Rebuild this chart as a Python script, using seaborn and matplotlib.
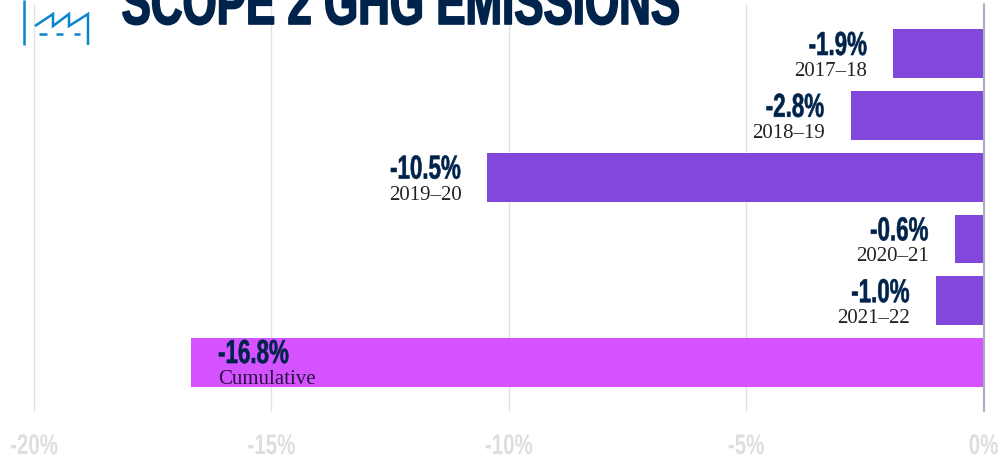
import pandas as pd
import seaborn as sns
import matplotlib.pyplot as plt
from matplotlib.patheffects import AbstractPathEffect
from matplotlib.transforms import Affine2D

W, H = 998, 462

# values (bar lengths as drawn, labels as printed)
periods = ["2017–18", "2018–19", "2019–20", "2020–21", "2021–22", "Cumulative"]
changes = [-1.9, -2.8, -10.45, -0.6, -1.0, -16.7]
change_labels = ["-1.9%", "-2.8%", "-10.5%", "-0.6%", "-1.0%", "-16.8%"]
tick_values = [-20, -15, -10, -5, 0]
tick_labels = ["-20%", "-15%", "-10%", "-5%", "0%"]

PURPLE = "#8247DB"
MAGENTA = "#D452FF"
NAVY = "#00234B"
GRID = "#E2E2E2"
ZERO = "#A9ACC2"
TICK = "#DCDEDF"
BLUE = "#0A84CC"
SANS = ["Liberation Sans", "DejaVu Sans"]
SERIF = ["Liberation Serif", "DejaVu Serif"]


# no condensed font installed, so squeeze the glyphs sideways at draw time
class Squeeze(AbstractPathEffect):
    def __init__(self, sx, ha, stroke=0.0):
        super().__init__()
        self.sx = sx
        self.ha = ha
        self.stroke = stroke

    def draw_path(self, renderer, gc, tpath, affine, rgbFace=None):
        ext = tpath.get_extents()
        a = {"left": ext.x0, "right": ext.x1, "center": (ext.x0 + ext.x1) / 2}[self.ha]
        t = Affine2D().translate(-a, 0).scale(self.sx, 1).translate(a, 0)
        gc.set_linewidth(self.stroke)
        renderer.draw_path(gc, tpath, t + affine, rgbFace)


def px(x, y):
    # pixel position (from top left) to figure fraction
    return x / W, 1 - y / H


def icon_line(points, lw=1.8):
    xs, ys = zip(*[px(a, b) for a, b in points])
    fig.add_artist(plt.Line2D(xs, ys, color=BLUE, lw=lw, solid_capstyle="butt", solid_joinstyle="miter"))


sns.set_style("white")
df = pd.DataFrame({"period": periods, "change": changes})

fig = plt.figure(figsize=(W / 100, H / 100), dpi=100)
ax = fig.add_axes([34 / W, 1 - 411 / H, (983.5 - 34) / W, (411 - 4) / H])

sns.barplot(data=df, x="change", y="period", hue="period", orient="h", ax=ax,
            palette=[PURPLE] * 5 + [MAGENTA], width=0.79, legend=False,
            saturation=1, linewidth=0, zorder=2)

ax.set_xlim(-20, 0)
ax.set_ylim(5.784, -0.801)
ax.set_xlabel("")
ax.set_ylabel("")
ax.set_yticks([])
ax.set_xticks(tick_values)
ax.set_xticklabels(tick_labels, family=SANS, fontsize=20.5, fontweight="bold", color=TICK, va="baseline")
ax.tick_params(axis="x", length=0, pad=31)
for lab in ax.get_xticklabels():
    lab.set_path_effects([Squeeze(0.72, "center")])
    lab.set_clip_on(False)
for s in ax.spines.values():
    s.set_visible(False)
for t in tick_values:
    ax.axvline(t, color=ZERO if t == 0 else GRID, lw=1.5 if t == 0 else 1,
               zorder=3 if t == 0 else 1, clip_on=False)

# value + period labels, left of the bar (inside the bar for the cumulative one)
for i, (p, v, lab) in enumerate(zip(periods, changes, change_labels)):
    inside = p == "Cumulative"
    dx = 27 if inside else -26
    ha = "left" if inside else "right"
    ax.annotate(lab, (v, i), xytext=(dx * 0.72, (-0.5 if inside else -1.5) * 0.72),
                textcoords="offset points", ha=ha, va="baseline", family=SANS,
                fontsize=24, fontweight="bold", color=NAVY,
                path_effects=[Squeeze(0.67, ha, 0.4)])
    ax.annotate(p, (v, i), xytext=(dx * 0.72, (-21.5 if inside else -22.5) * 0.72),
                textcoords="offset points", ha=ha, va="baseline", family=SERIF,
                fontsize=15, color="#2A1040" if inside else "#222222")

# title runs off the top of the frame
x0, y0 = px(121, 24)
fig.text(x0, y0, "SCOPE 2 GHG EMISSIONS", family=SANS, fontsize=46, fontweight="bold",
         color=NAVY, ha="left", va="baseline", zorder=5,
         path_effects=[Squeeze(0.687, "left", 1.2)])

# factory icon
icon_line([(24, 0), (24, 45)])
icon_line([(35, 26), (53, 14), (53, 26), (69, 14), (69, 26), (88, 14), (88, 45)])
icon_line([(39, 34), (47, 34)])
icon_line([(56, 34), (63, 34)])
icon_line([(74, 34), (80, 34)])

fig.savefig("out.png", dpi=100)
